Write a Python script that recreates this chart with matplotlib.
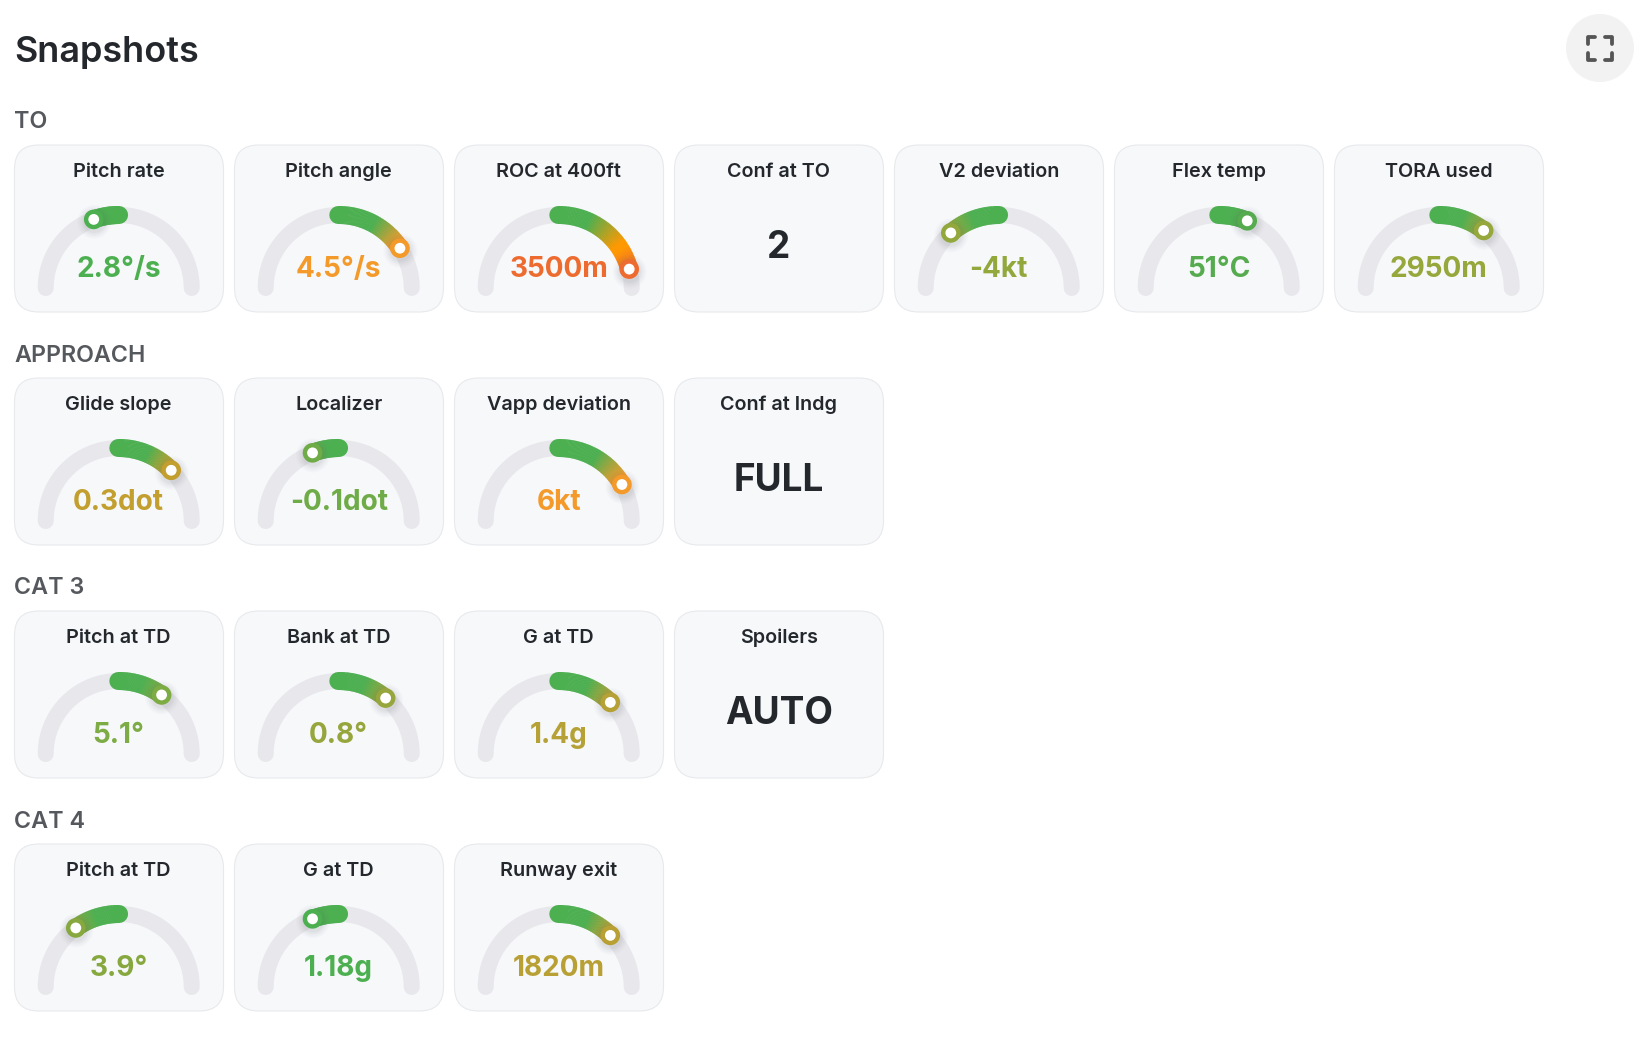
import numpy as np
import matplotlib
matplotlib.use("Agg")
import matplotlib.pyplot as plt
from matplotlib.patches import FancyBboxPatch, Circle
from matplotlib.colors import to_rgb

plt.rcParams['font.family'] = ['Inter', 'DejaVu Sans']

TITLE = "Snapshots"
SECTIONS = ["TO", "APPROACH", "CAT 3", "CAT 4"]

to_names = ["Pitch rate", "Pitch angle", "ROC at 400ft", "Conf at TO", "V2 deviation", "Flex temp", "TORA used"]
to_values = ["2.8°/s", "4.5°/s", "3500m", "2", "-4kt", "51°C", "2950m"]
to_dial = [-20, 57, 75, None, -41, 23, 38]
to_colors = ["#4caf50", "#f39a2b", "#ee6b30", None, "#93a83c", "#55ab4e", "#96a73c"]

app_names = ["Glide slope", "Localizer", "Vapp deviation", "Conf at lndg"]
app_values = ["0.3dot", "-0.1dot", "6kt", "FULL"]
app_dial = [46, -21, 60, None]
app_colors = ["#c29f2e", "#6fac47", "#f39a2b", None]

cat3_names = ["Pitch at TD", "Bank at TD", "G at TD", "Spoilers"]
cat3_values = ["5.1°", "0.8°", "1.4g", "AUTO"]
cat3_dial = [36, 40, 45, None]
cat3_colors = ["#7dab44", "#97a63c", "#b5a136", None]

cat4_names = ["Pitch at TD", "G at TD", "Runway exit"]
cat4_values = ["3.9°", "1.18g", "1820m"]
cat4_dial = [-36, -21, 45]
cat4_colors = ["#86a83f", "#4caf50", "#b8a035"]

ROWS = [(to_names, to_values, to_dial, to_colors),
        (app_names, app_values, app_dial, app_colors),
        (cat3_names, cat3_values, cat3_dial, cat3_colors),
        (cat4_names, cat4_values, cat4_dial, cat4_colors)]

GREEN, ORANGE = "#4caf50", "#ff9800"
INK = "#24282d"

fig = plt.figure(figsize=(16.5, 10.64), dpi=100)
ax = fig.add_axes([0, 0, 1, 1])
ax.set_xlim(0, 1650)
ax.set_ylim(1064, 0)
ax.axis("off")


def px(p):
    return p * 0.72


def mix(a, b, t):
    a, b = np.array(to_rgb(a)), np.array(to_rgb(b))
    return tuple(a + (b - a) * np.clip(t, 0, 1))


def pos(cx, cy, r, deg):
    t = np.radians(deg)
    return cx + r * np.sin(t), cy - r * np.cos(t)


def arc(cx, cy, r, a, b, n=120):
    t = np.radians(np.linspace(a, b, n))
    return cx + r * np.sin(t), cy - r * np.cos(t)


def stroke_color(frac_deg, end_deg, end_color):
    m = abs(frac_deg)
    e = abs(end_deg)
    if e > 62:
        if m < 58:
            return mix(GREEN, ORANGE, (m - 24) / 30)
        return mix(ORANGE, end_color, (m - 58) / (e - 58))
    return mix(GREEN, end_color, (m - 0.5 * e) / (0.42 * e))


def draw_gauge(cx, cy, deg, color):
    R = 73
    x, y = arc(cx, cy, R, -90, 90)
    ax.plot(x, y, color="#e8e8ec", lw=px(16), solid_capstyle="round", zorder=3)
    lw = px(18)
    sx, sy = arc(cx, cy, R, -np.sign(deg) * 0.3, np.sign(deg) * 0.3, 3)
    ax.plot(sx, sy, color=GREEN, lw=lw, solid_capstyle="round", zorder=4)
    steps = np.linspace(0, deg, 70)
    for a, b in zip(steps[:-1], steps[1:]):
        sx, sy = arc(cx, cy, R, a, b + np.sign(deg) * 0.4, 3)
        ax.plot(sx, sy, color=stroke_color((a + b) / 2, deg, color), lw=lw,
                solid_capstyle="butt", zorder=4)
    mx, my = pos(cx, cy, R, deg)
    for rad, al in ((17, .02), (15.5, .025), (14, .03), (12.5, .035), (11, .04)):
        ax.add_patch(Circle((mx + 0.5, my + 2.5), rad, fc="#555a66", ec="none", alpha=al, zorder=5))
    ax.add_patch(Circle((mx, my), 9.8, fc=color, ec="none", zorder=6))
    ax.add_patch(Circle((mx, my), 5.4, fc="white", ec="none", zorder=7))


CARD_W, CARD_H, PITCH_X, PITCH_Y, LEFT, TOP = 209, 167, 220, 233, 14.5, 145

ax.text(14, 62, TITLE, fontsize=px(36), fontweight=600, color=INK, ha="left", va="baseline")

for i, (section, row) in enumerate(zip(SECTIONS, ROWS)):
    top = TOP + i * PITCH_Y
    ax.text(14, top - 16.5, section, fontsize=px(23.3), fontweight=600, color="#55585c",
            ha="left", va="baseline")
    for j, (name, val, deg, col) in enumerate(zip(*row)):
        left = LEFT + j * PITCH_X
        cx = left + CARD_W / 2 - 0.3
        ax.add_patch(FancyBboxPatch((left + 24, top + 24), CARD_W - 48, CARD_H - 48,
                                    boxstyle="round,pad=24,rounding_size=24",
                                    fc="#f6f8fa", ec="#e7e9ec", lw=0.8, zorder=1))
        ax.text(cx, top + 32, name, fontsize=px(19.8), fontweight=600, color=INK,
                ha="center", va="baseline", zorder=8)
        if deg is None:
            ax.text(cx, top + 113, val, fontsize=px(37), fontweight=700, color=INK,
                    ha="center", va="baseline", zorder=8)
        else:
            draw_gauge(cx, top + 143, deg, col)
            ax.text(cx, top + 132, val, fontsize=px(28), fontweight=700, color=col,
                    ha="center", va="baseline", zorder=8)

# fullscreen button
ax.add_patch(Circle((1600, 48), 34, fc="#f2f2f2", ec="none", zorder=1))
for sx, sy in ((-1, -1), (1, -1), (-1, 1), (1, 1)):
    cx0, cy0 = 1600 + sx * 12, 48 + sy * 11.5
    ax.plot([cx0 - sx * 7, cx0, cx0], [cy0, cy0, cy0 - sy * 7], color="#555555", lw=px(3.8),
            solid_capstyle="round", solid_joinstyle="round", zorder=2)

fig.savefig("out.png", dpi=100, facecolor="white")
